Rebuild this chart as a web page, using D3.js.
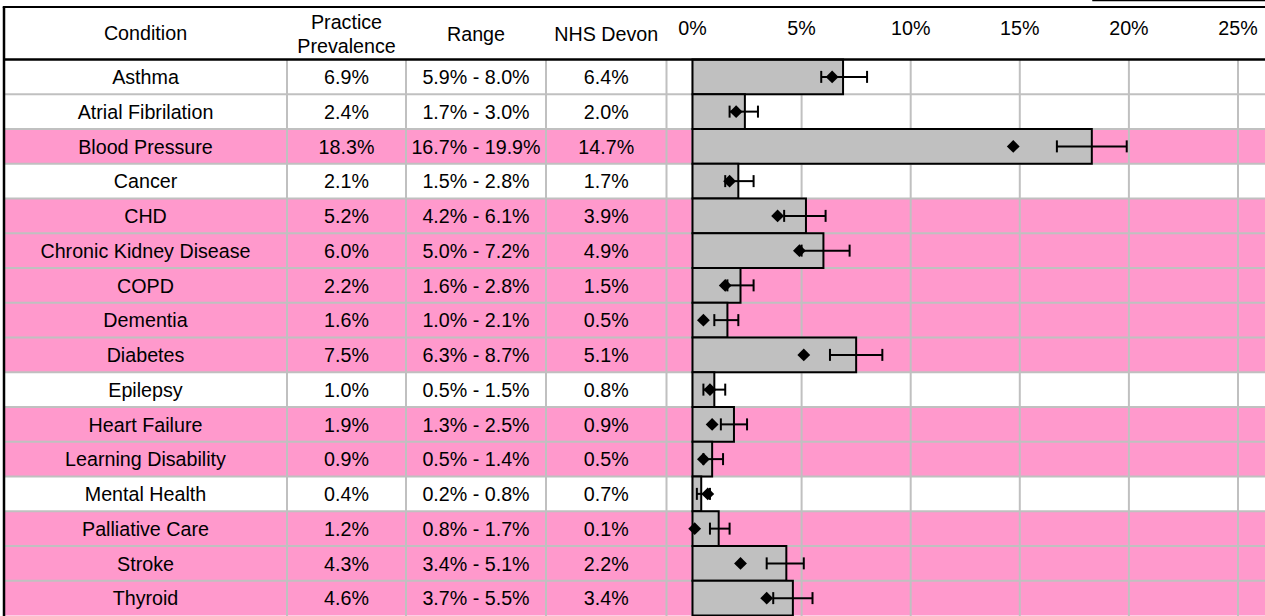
<!DOCTYPE html>
<html>
<head>
<meta charset="utf-8">
<script src="https://cdn.jsdelivr.net/npm/d3@7"></script>
<style>
  body { margin: 0; background: #fff; }
  svg text { font-family: "Liberation Sans", Arial, sans-serif; font-size: 19.7px; fill: #000; }
</style>
</head>
<body>
<svg id="chart" width="1265" height="616"></svg>
<script>
// table / chart data (percentages)
const conditions = ["Asthma", "Atrial Fibrilation", "Blood Pressure", "Cancer", "CHD",
  "Chronic Kidney Disease", "COPD", "Dementia", "Diabetes", "Epilepsy", "Heart Failure",
  "Learning Disability", "Mental Health", "Palliative Care", "Stroke", "Thyroid"];
const prevalence = [6.9, 2.4, 18.3, 2.1, 5.2, 6.0, 2.2, 1.6, 7.5, 1.0, 1.9, 0.9, 0.4, 1.2, 4.3, 4.6];
const rangeLow   = [5.9, 1.7, 16.7, 1.5, 4.2, 5.0, 1.6, 1.0, 6.3, 0.5, 1.3, 0.5, 0.2, 0.8, 3.4, 3.7];
const rangeHigh  = [8.0, 3.0, 19.9, 2.8, 6.1, 7.2, 2.8, 2.1, 8.7, 1.5, 2.5, 1.4, 0.8, 1.7, 5.1, 5.5];
const nhsDevon   = [6.4, 2.0, 14.7, 1.7, 3.9, 4.9, 1.5, 0.5, 5.1, 0.8, 0.9, 0.5, 0.7, 0.1, 2.2, 3.4];
// rows flagged as significantly higher than NHS Devon
const higher = [false, false, true, false, true, true, true, true, true, false, true, true, false, true, true, true];
const xTicks = [0, 5, 10, 15, 20, 25];

const rows = conditions.map((c, i) => ({
  name: c, prev: prevalence[i], lo: rangeLow[i], hi: rangeHigh[i], nhs: nhsDevon[i], flag: higher[i]
}));

const svg = d3.select("#chart");
const W = 1265;
const tLeft = 4, tTop = 7, headBottom = 59.5, tBottom = 615.5;
// column boundaries: condition | practice | range | nhs | chart
const cols = [tLeft, 287, 406, 546, 666.5];
const grid = "#c0c0c0";
const fmt = v => d3.format(".1f")(v) + "%";

const x = d3.scaleLinear().domain([0, 25]).range([692.5, 1238]);
const y = d3.scaleBand().domain(conditions).range([headBottom, tBottom]).padding(0);

// legend box cut off at the top right
svg.append("rect")
  .attr("x", 1093).attr("y", -30).attr("width", 200).attr("height", 30.5)
  .attr("fill", "#fff").attr("stroke", "#000").attr("stroke-width", 1.5);

// row backgrounds
svg.append("g").selectAll("rect").data(rows).enter()
  .append("rect")
  .attr("x", tLeft).attr("width", W - tLeft)
  .attr("y", d => y(d.name)).attr("height", y.bandwidth())
  .attr("fill", d => d.flag ? "#ff99cc" : "#fff");

// grid lines
const g = svg.append("g").attr("stroke", grid).attr("stroke-width", 2);
g.selectAll(".hline").data(conditions.slice(1)).enter()
  .append("line").attr("class", "hline")
  .attr("x1", tLeft).attr("x2", W)
  .attr("y1", d => y(d)).attr("y2", d => y(d));
g.selectAll(".colsep").data(cols.slice(1)).enter()
  .append("line").attr("class", "colsep")
  .attr("x1", d => d).attr("x2", d => d)
  .attr("y1", headBottom).attr("y2", tBottom + 1);
g.selectAll(".vgrid").data(xTicks).enter()
  .append("line").attr("class", "vgrid")
  .attr("x1", d => x(d)).attr("x2", d => x(d))
  .attr("y1", headBottom).attr("y2", tBottom + 1);

// bars
svg.append("g").selectAll("rect").data(rows).enter()
  .append("rect")
  .attr("x", x(0)).attr("y", d => y(d.name))
  .attr("width", d => x(d.prev) - x(0)).attr("height", y.bandwidth())
  .attr("fill", "#c0c0c0").attr("stroke", "#000").attr("stroke-width", 2);

// error bars
const eb = svg.append("g").attr("stroke", "#000").attr("stroke-width", 2);
rows.forEach(d => {
  const cy = y(d.name) + y.bandwidth() / 2;
  eb.append("line").attr("x1", x(d.lo)).attr("x2", x(d.hi)).attr("y1", cy).attr("y2", cy);
  eb.append("line").attr("x1", x(d.lo)).attr("x2", x(d.lo)).attr("y1", cy - 6).attr("y2", cy + 6);
  eb.append("line").attr("x1", x(d.hi)).attr("x2", x(d.hi)).attr("y1", cy - 6).attr("y2", cy + 6);
});

// NHS Devon markers
svg.append("g").selectAll("path").data(rows).enter()
  .append("path")
  .attr("d", d3.symbol().type(d3.symbolDiamond2).size(105))
  .attr("transform", d => `translate(${x(d.nhs)},${y(d.name) + y.bandwidth() / 2})`)
  .attr("fill", "#000");

// header text
const head = svg.append("g").attr("text-anchor", "middle");
const mid = i => (cols[i] + cols[i + 1]) / 2;
head.append("text").attr("x", mid(0)).attr("y", 40).text("Condition");
head.append("text").attr("x", mid(1)).attr("y", 29).text("Practice");
head.append("text").attr("x", mid(1)).attr("y", 53).text("Prevalence");
head.append("text").attr("x", mid(2)).attr("y", 41).text("Range");
head.append("text").attr("x", mid(3)).attr("y", 41).text("NHS Devon");
head.selectAll(".tick").data(xTicks).enter()
  .append("text").attr("class", "tick")
  .attr("x", d => x(d)).attr("y", 34.5)
  .text(d => d + "%");

// table cells
const cells = svg.append("g").attr("text-anchor", "middle");
rows.forEach(d => {
  const ty = y(d.name) + y.bandwidth() / 2 + 7.3;
  cells.append("text").attr("x", mid(0)).attr("y", ty).text(d.name);
  cells.append("text").attr("x", mid(1)).attr("y", ty).text(fmt(d.prev));
  cells.append("text").attr("x", mid(2)).attr("y", ty).text(fmt(d.lo) + " - " + fmt(d.hi));
  cells.append("text").attr("x", mid(3)).attr("y", ty).text(fmt(d.nhs));
});

// table borders
const b = svg.append("g").attr("stroke", "#000");
b.append("line").attr("x1", tLeft - 1.25).attr("x2", W).attr("y1", tTop).attr("y2", tTop).attr("stroke-width", 2);
b.append("line").attr("x1", tLeft).attr("x2", W).attr("y1", headBottom).attr("y2", headBottom).attr("stroke-width", 2.3);
b.append("line").attr("x1", tLeft).attr("x2", tLeft).attr("y1", tTop).attr("y2", 616).attr("stroke-width", 2.5);
</script>
</body>
</html>
